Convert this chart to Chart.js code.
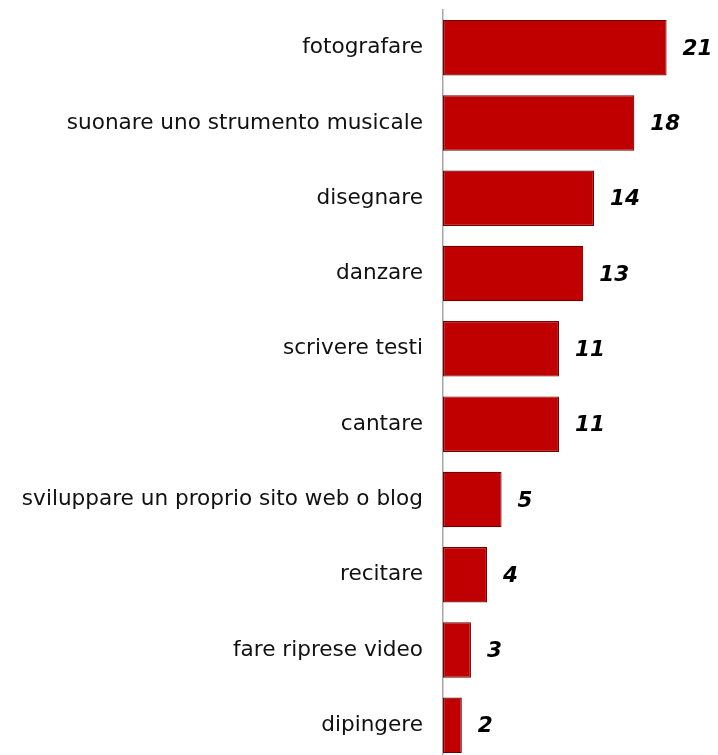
<!DOCTYPE html>
<html>
<head>
<meta charset="utf-8">
<script src="https://cdn.jsdelivr.net/npm/chart.js@4.4.0/dist/chart.umd.min.js"></script>
<style>
    html, body { margin: 0; padding: 0; background: #fff; overflow: hidden; }
    #wrap { width: 718px; height: 765px; }
</style>
</head>
<body>
<div id="wrap"><canvas id="barChart" width="718" height="765"></canvas></div>
<script>
const categories = [
    'fotografare',
    'suonare uno strumento musicale',
    'disegnare',
    'danzare',
    'scrivere testi',
    'cantare',
    'sviluppare un proprio sito web o blog',
    'recitare',
    'fare riprese video',
    'dipingere'
];
// bar lengths (unrounded)
const values = [20.8, 17.8, 14.05, 13.05, 10.8, 10.8, 5.45, 4.1, 2.6, 1.75];
// numbers printed beside the bars
const shownValues = ['21', '18', '14', '13', '11', '11', '5', '4', '3', '2'];

// value labels next to each bar
const valueLabels = {
    id: 'valueLabels',
    afterDatasetsDraw(chart) {
        const ctx = chart.ctx;
        const meta = chart.getDatasetMeta(0);
        ctx.save();
        ctx.font = 'italic bold 21.5px "DejaVu Sans"';
        ctx.fillStyle = '#000';
        ctx.textAlign = 'left';
        ctx.textBaseline = 'middle';
        meta.data.forEach((bar, i) => {
            ctx.fillText(shownValues[i], bar.x + 16, bar.y + 1.5);
        });
        ctx.restore();
    }
};

const barData = {
    labels: categories,
    datasets: [{
        data: values,
        backgroundColor: '#C00000',
        borderColor: '#6E0000',
        borderWidth: 1.2,
        borderSkipped: false,
        categoryPercentage: 1,
        barPercentage: 0.737
    }]
};

const barConfig = {
    type: 'bar',
    data: barData,
    options: {
        indexAxis: 'y',
        responsive: false,
        animation: false,
        layout: {
            padding: { top: 10, bottom: 2, left: 0, right: 6.25 }
        },
        plugins: {
            legend: { display: false },
            tooltip: { enabled: false }
        },
        scales: {
            x: {
                display: false,
                min: 0,
                max: 25
            },
            y: {
                grid: { display: false, drawTicks: false },
                border: { display: true, color: '#A6A6A6', width: 1.5 },
                ticks: {
                    color: '#111',
                    padding: 20,
                    font: { family: '"DejaVu Sans"', size: 21.6 }
                },
                afterFit: (scale) => {
                    scale.width = 443;
                    scale.paddingTop = 0;
                    scale.paddingBottom = 0;
                }
            }
        }
    },
    plugins: [valueLabels]
};

const barChart = new Chart(document.getElementById('barChart'), barConfig);
</script>
</body>
</html>
